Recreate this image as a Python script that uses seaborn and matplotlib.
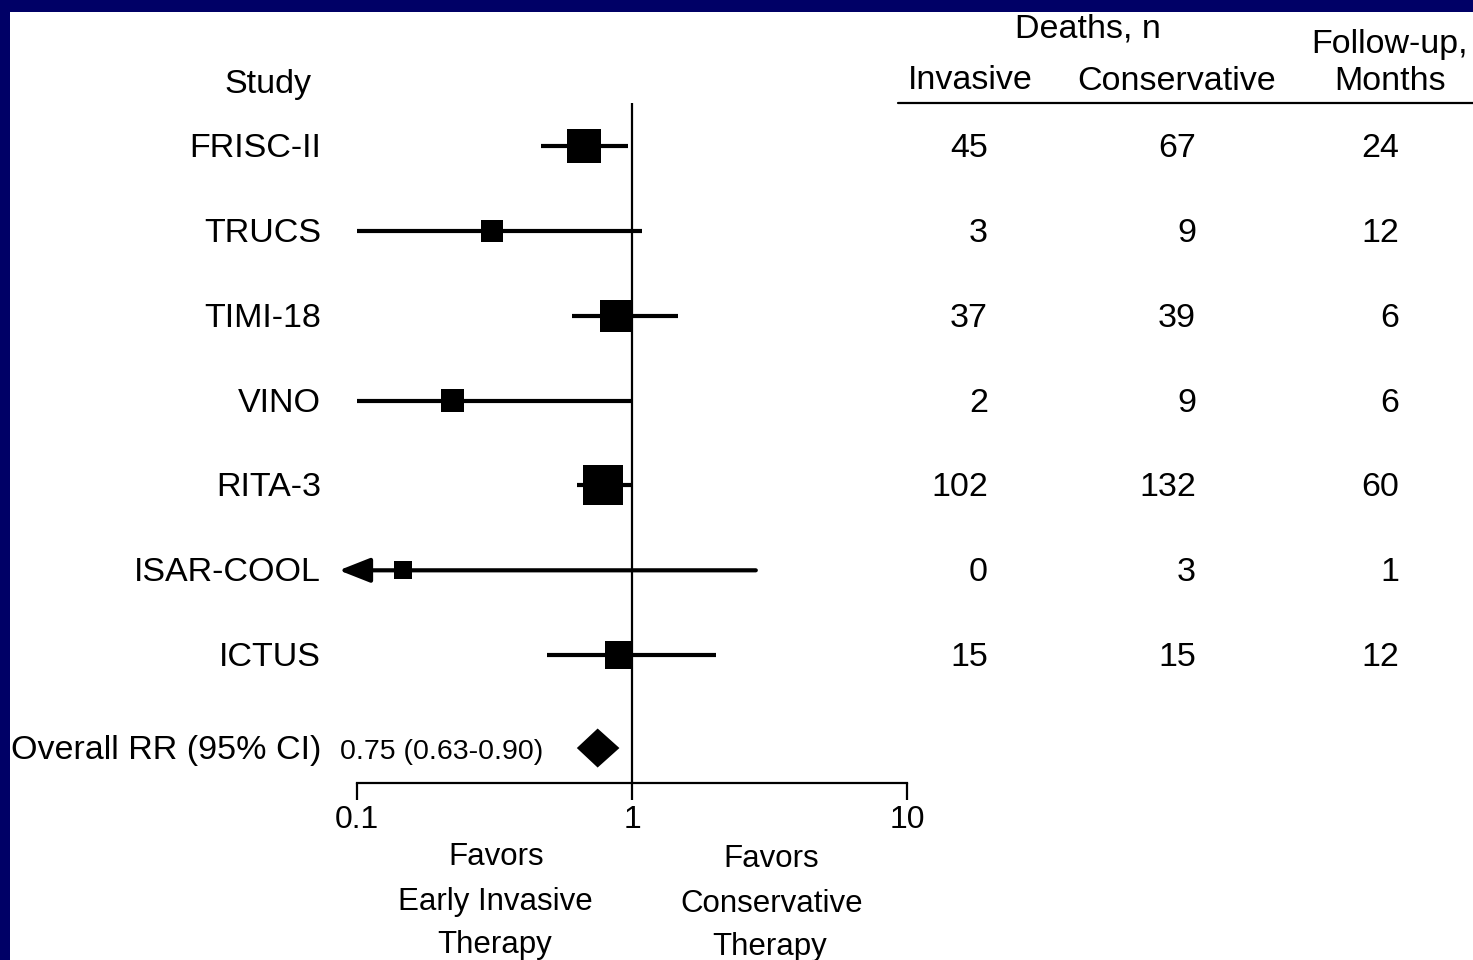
import numpy as np
import pandas as pd
import seaborn as sns
import matplotlib.pyplot as plt
import matplotlib.transforms as mtransforms
from matplotlib.patches import Rectangle
from matplotlib.lines import Line2D

# ---- data -------------------------------------------------------------
studies = ["FRISC-II", "TRUCS", "TIMI-18", "VINO", "RITA-3", "ISAR-COOL", "ICTUS"]
rr = [0.67, 0.31, 0.875, 0.223, 0.785, 0.147, 0.90]
ci_low = [0.467, 0.10, 0.605, 0.10, 0.63, 0.02, 0.49]
ci_high = [0.967, 1.09, 1.47, 1.00, 1.00, 2.82, 2.02]
study_weight = [34, 22, 32, 23, 40, 18, 28]
deaths_invasive = [45, 3, 37, 2, 102, 0, 15]
deaths_conservative = [67, 9, 39, 9, 132, 3, 15]
followup_months = [24, 12, 6, 6, 60, 1, 12]
overall_rr = 0.75
overall_low = 0.63
overall_high = 0.90
tick_values = [0.1, 1, 10]
tick_labels = ["0.1", "1", "10"]

W, H = 1473, 960
sns.set_theme(style="white")
plt.rcParams["font.family"] = ["Liberation Sans", "DejaVu Sans"]
plt.rcParams["text.color"] = "black"
plt.rcParams["xtick.color"] = "black"
plt.rcParams["xtick.labelcolor"] = "black"

fig = plt.figure(figsize=(W / 100, H / 100), dpi=100)
fig.patch.set_facecolor("#000066")
fig.add_artist(Rectangle((10 / W, 0), 1 - 10 / W, 1 - 12 / H,
                         transform=fig.transFigure, facecolor="white",
                         edgecolor="none", zorder=0))

ax = fig.add_axes([357 / W, (H - 783) / H, 550 / W, (783 - 103) / H])
ax.set_facecolor("none")
ax.set_xscale("log")
ax.set_xlim(0.1, 10)
ax.set_ylim(8.506, 0.494)

rows = np.arange(1, len(studies) + 1)
overall_row = 8.094
df = pd.DataFrame({"study": studies, "rr": rr, "lo": ci_low, "hi": ci_high,
                   "row": rows, "area": (np.array(study_weight) / 1.389) ** 2})

# reference line at RR = 1
ax.axvline(1, color="black", lw=1.6, zorder=1)

# confidence intervals
lw_ci = 3.0
for _, r in df.iterrows():
    if r.lo < 0.1:
        ax.annotate("", xy=(0.086, r.row), xytext=(r.hi, r.row),
                    arrowprops=dict(arrowstyle="-|>,head_length=1.9,head_width=0.75",
                                    lw=lw_ci, color="black", shrinkA=0, shrinkB=0),
                    annotation_clip=False, fontsize=10)
    else:
        ax.plot([r.lo, r.hi], [r.row, r.row], color="black", lw=lw_ci,
                solid_capstyle="butt", zorder=2)

# point estimates, box size by study weight
sns.scatterplot(data=df, x="rr", y="row", size="area",
                sizes=(df.area.min(), df.area.max()), marker="s",
                color="black", linewidth=0, legend=False, ax=ax, zorder=3)

# pooled estimate diamond
dh = 0.23
ax.fill([overall_low, overall_rr, overall_high, overall_rr],
        [overall_row, overall_row - dh, overall_row, overall_row + dh],
        color="black", lw=0, zorder=3)

# axis styling
for s in ["top", "right", "left"]:
    ax.spines[s].set_visible(False)
ax.spines["bottom"].set_linewidth(1.6)
ax.spines["bottom"].set_color("black")
ax.set_xticks(tick_values)
ax.set_xticklabels(tick_labels)
ax.xaxis.set_minor_locator(plt.NullLocator())
ax.tick_params(axis="x", direction="out", length=12, width=1.6, color="black",
               labelcolor="black", labelsize=23, pad=4, bottom=True)
ax.set_yticks([])
ax.set_xlabel("")
ax.set_ylabel("")

# text columns aligned to rows
row_trans = mtransforms.blended_transform_factory(fig.transFigure, ax.transData)
row_trans = mtransforms.offset_copy(row_trans, fig=fig, y=-11, units="dots")
fs = 24.5
for i, r in df.iterrows():
    fig.text(321 / W, r.row, r.study, transform=row_trans, ha="right",
             va="baseline", fontsize=fs)
    fig.text(988 / W, r.row, str(deaths_invasive[i]), transform=row_trans,
             ha="right", va="baseline", fontsize=fs)
    fig.text(1196 / W, r.row, str(deaths_conservative[i]), transform=row_trans,
             ha="right", va="baseline", fontsize=fs)
    fig.text(1399 / W, r.row, str(followup_months[i]), transform=row_trans,
             ha="right", va="baseline", fontsize=fs)

fig.text(321 / W, overall_row, "Overall RR (95% CI)", transform=row_trans,
         ha="right", va="baseline", fontsize=fs)
fig.text(340 / W, overall_row, f"{overall_rr:.2f} ({overall_low:.2f}-{overall_high:.2f})",
         transform=row_trans, ha="left", va="baseline", fontsize=20.5)


def ptext(x, y, s, ha="center", size=fs):
    fig.text(x / W, 1 - y / H, s, ha=ha, va="baseline", fontsize=size)


# headers
ptext(268, 93, "Study")
ptext(1088, 38, "Deaths, n")
ptext(970, 89, "Invasive")
ptext(1177, 90, "Conservative")
ptext(1389, 53, "Follow-up,")
ptext(1390, 90, "Months")
fig.add_artist(Line2D([898 / W, 1], [1 - 103 / H, 1 - 103 / H], color="black",
                      lw=1.6, transform=fig.transFigure))

# direction labels
bs = 22.5
ptext(496, 865, "Favors", size=bs)
ptext(495, 910, "Early Invasive", size=bs)
ptext(495, 953, "Therapy", size=bs)
ptext(771, 867, "Favors", size=bs)
ptext(772, 912, "Conservative", size=bs)
ptext(770, 955, "Therapy", size=bs)

fig.savefig("out.png", dpi=100, facecolor=fig.get_facecolor())
